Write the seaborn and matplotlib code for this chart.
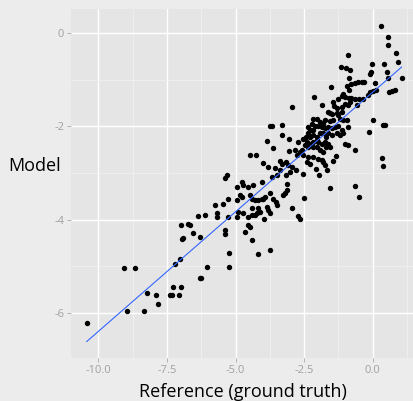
import matplotlib
matplotlib.use("Agg")
import matplotlib.pyplot as plt
import seaborn as sns
import pandas as pd

# Reference (ground truth) values and model predictions
reference = [
    0.30, 0.56, 0.56, 0.84, 0.91, 1.06, -0.91, -1.15, -0.97, -0.83,
    -0.01, -0.06, -0.10, 0.41, 0.51, 0.55, 0.61, 0.72, 0.80, -0.85,
    -0.77, -0.64, -0.52, -0.40, -0.32, -0.95, -0.86, 0.09, 0.11, 0.00,
    -0.10, -0.18, -0.34, -0.49, -0.64, -0.77, -0.86, -1.00, -1.11, -1.28,
    -1.07, -1.53, -2.14,
    -2.95, -1.83, -1.46, -1.40, -1.31, -1.13, -1.01, -0.89, -0.83, -0.58,
    -1.64, -1.56, -1.49, -1.31, -1.25, -1.19, -1.13, -1.07, -0.95, -0.89,
    -1.43, -1.56, -1.74, -1.80, -1.92, -2.04, -2.16, -2.22, -2.35, -2.28,
    -2.16, -2.10, -1.98, -1.86, -1.74, -1.62, -1.49, -1.37, -1.25, -1.13,
    -1.07, -1.19, -1.31, -1.49, -1.62, -1.70, -1.80, -1.92, -2.04, -2.16,
    -2.28, -2.35, -2.43, -2.53, -2.41, -2.28, -2.16, -2.04, -1.98, -1.86,
    -1.74, -1.62, -1.56, -1.70, -1.82, -1.92, -2.04, -2.16, -2.35, -2.47,
    -2.59, -2.71, -2.65, -2.83, -2.77, -2.53, -2.35, -2.41, -2.28, -2.16,
    -1.98, -1.86, -1.80, -1.74, -1.68, -1.43, -1.34, -1.01, -0.89, -0.64,
    -0.13, 0.02, 0.39, 0.45, 0.36, 0.39, -0.64, -1.56, -1.94, -2.07,
    -2.53, -2.79, -2.95, -3.01,
    -3.74, -3.67, -3.32, -3.32, -3.86, -3.04, -3.65, -4.47, -4.26, -4.01,
    -3.80, -3.38, -3.30, -3.16, -3.07, -3.38, -3.56, -3.50, -3.68, -3.04,
    -5.38, -5.32, -3.16,
    -4.78, -4.71, -4.53, -4.35, -4.05, -4.96, -4.84, -4.78, -4.93, -5.26,
    -5.44, -5.75, -4.47, -4.41, -4.29, -4.17, -4.05, -3.99, -3.92, -3.74,
    -3.62, -3.52, -3.50, -3.86, -3.80, -4.17, -4.11, -4.23, -4.29, -4.41,
    -4.41, -4.53, -4.71, -4.90, -4.96, -5.26, -5.69, -5.69, -6.11, -6.35,
    -3.74, -3.96, -3.13, -3.20, -3.13, -3.26, -2.95, -2.71, -2.65, -4.53,
    -4.47, -4.65, -4.41, -5.38, -5.38, -6.72, -6.66, -6.56, -6.29, -5.22,
    -4.17, -3.74, -6.05, -5.22,
    -6.97, -6.96, -6.90, -7.02, -7.21, -9.05, -8.66, -8.24, -7.90, -7.84,
    -7.39, -7.33, -7.29, -7.00, -7.05, -8.94, -8.32, -10.43,
    -6.29, -6.25, -2.49, -0.50,
]
model = [
    0.16, -0.07, -0.25, -0.43, -0.62, -0.96, -0.47, -0.73, -0.75, -0.79,
    -0.66, -0.82, -0.87, -0.66, -0.82, -0.97, -1.26, -1.23, -1.22, -0.97,
    -1.08, -1.06, -1.05, -1.05, -1.04, -1.13, -1.22, -1.06, -1.22, -1.23,
    -1.25, -1.33, -1.40, -1.41, -1.40, -1.38, -1.38, -1.36, -1.35, -1.42,
    -1.31, -1.16, -1.36,
    -1.59, -1.54, -1.47, -1.56, -1.61, -1.58, -1.51, -1.54, -1.47, -1.54,
    -1.68, -1.71, -1.73, -1.72, -1.76, -1.83, -1.68, -1.86, -1.86, -2.01,
    -1.86, -1.88, -1.86, -1.94, -1.90, -1.83, -1.83, -1.94, -2.01, -2.08,
    -2.08, -1.99, -1.99, -2.01, -2.04, -2.01, -2.04, -2.01, -1.99, -2.08,
    -2.15, -2.19, -2.15, -2.19, -2.15, -2.22, -2.15, -2.15, -2.22, -2.19,
    -2.22, -2.15, -2.22, -2.26, -2.33, -2.37, -2.33, -2.29, -2.33, -2.37,
    -2.33, -2.37, -2.44, -2.44, -2.54, -2.51, -2.44, -2.44, -2.44, -2.40,
    -2.51, -2.33, -2.54, -2.51, -2.62, -2.62, -2.65, -2.76, -2.80, -2.65,
    -2.69, -2.72, -2.76, -2.83, -2.94, -2.75, -2.64, -2.37, -2.40, -2.51,
    -2.11, -1.86, -1.97, -1.97, -2.67, -2.85, -3.27, -3.33, -3.05, -2.92,
    -3.03, -2.94, -2.87, -2.97,
    -1.99, -1.99, -1.96, -2.19, -2.32, -2.28, -2.46, -2.62, -2.62, -2.78,
    -2.87, -2.74, -2.81, -2.76, -2.83, -2.94, -2.90, -3.05, -3.08, -2.52,
    -3.10, -3.05, -3.05,
    -3.19, -3.26, -3.30, -3.26, -3.19, -3.30, -3.48, -3.51, -3.58, -3.55,
    -3.66, -3.69, -3.48, -3.55, -3.58, -3.58, -3.55, -3.55, -3.51, -3.44,
    -3.55, -3.62, -3.69, -3.73, -3.80, -3.76, -3.84, -3.87, -3.91, -3.91,
    -3.76, -3.94, -3.87, -3.84, -3.94, -3.94, -3.87, -3.94, -3.91, -3.93,
    -3.87, -3.98, -3.23, -3.44, -3.37, -3.48, -3.76, -3.93, -3.99, -4.12,
    -4.16, -4.27, -4.44, -4.23, -4.32, -4.09, -4.12, -4.30, -4.37, -4.72,
    -4.75, -4.65, -5.02, -5.03,
    -4.12, -4.42, -4.39, -4.84, -4.95, -5.04, -5.05, -5.58, -5.63, -5.81,
    -5.63, -5.63, -5.46, -5.46, -5.63, -5.96, -5.96, -6.22,
    -5.25, -5.26, -3.53, -3.51,
]

x_ticks = [-10.0, -7.5, -5.0, -2.5, 0.0]
x_tick_labels = ["-10.0", "-7.5", "-5.0", "-2.5", "0.0"]
y_ticks = [0, -2, -4, -6]
y_tick_labels = ["0", "-2", "-4", "-6"]
x_minor = [-8.75, -6.25, -3.75, -1.25, 1.25]
y_minor = [-1, -3, -5]

df = pd.DataFrame({"reference": reference, "model": model})

sns.set_theme(style="darkgrid")
plt.rcParams["font.family"] = ["Open Sans", "DejaVu Sans"]

fig = plt.figure(figsize=(4.14, 4.01), dpi=100, facecolor="#ececec")
ax = fig.add_axes([71 / 414, 1 - 358 / 401, 343 / 414, 349 / 401])
ax.set_facecolor("#e5e5e5")

sns.scatterplot(data=df, x="reference", y="model", ax=ax, color="black",
                s=15, linewidth=0, zorder=3)
sns.regplot(data=df, x="reference", y="model", ax=ax, scatter=False,
            ci=None, line_kws={"color": "#3366ff", "lw": 0.8, "zorder": 4})

ax.set_xlim(-11.0, 1.51)
ax.set_ylim(-6.975, 0.523)
ax.set_xticks(x_ticks)
ax.set_xticklabels(x_tick_labels)
ax.set_yticks(y_ticks)
ax.set_yticklabels(y_tick_labels)
ax.set_xticks(x_minor, minor=True)
ax.set_yticks(y_minor, minor=True)
ax.grid(which="major", color="white", lw=1.0)
ax.grid(which="minor", color="#f2f2f2", lw=0.5)
ax.set_axisbelow(True)
for s in ax.spines.values():
    s.set_visible(False)
ax.tick_params(which="major", length=3, width=0.6, color="#aaaaaa",
               labelcolor="#a0a0a0", labelsize=8, pad=2)
ax.tick_params(which="minor", length=0)
ax.tick_params(axis="x", bottom=True)
ax.tick_params(axis="y", left=True)

ax.set_xlabel("Reference (ground truth)", fontsize=13, color="black")
ax.set_ylabel("Model", fontsize=13, color="black", rotation=0)
ax.xaxis.set_label_coords(0.5, -0.097)
ax.yaxis.set_label_coords(-0.105, 0.55)
ax.yaxis.label.set_verticalalignment("center")
ax.xaxis.label.set_verticalalignment("center")

fig.savefig("out.png", dpi=100, facecolor=fig.get_facecolor())
